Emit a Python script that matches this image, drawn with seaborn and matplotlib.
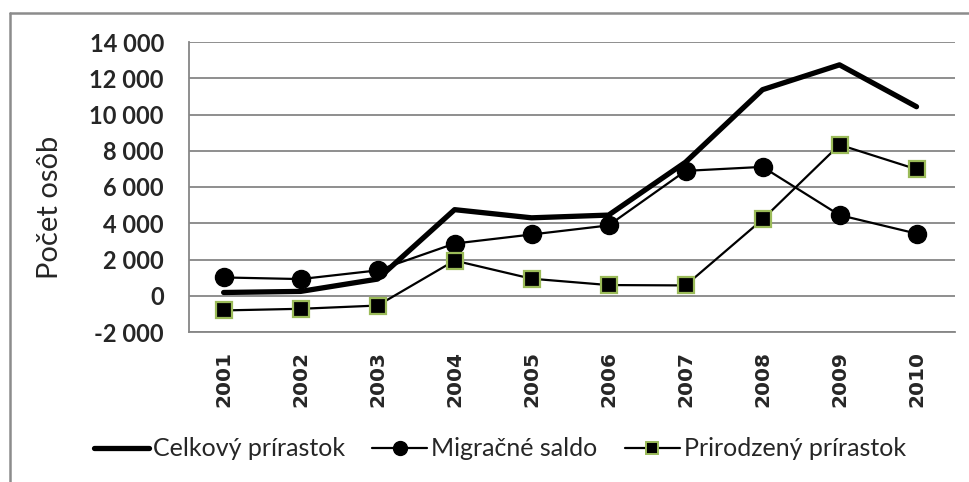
import matplotlib
matplotlib.use('Agg')
import matplotlib.pyplot as plt
from matplotlib.lines import Line2D
from matplotlib.ticker import FuncFormatter
import seaborn as sns
import pandas as pd

years = ['2001', '2002', '2003', '2004', '2005', '2006', '2007', '2008', '2009', '2010']
celkovy = [180, 240, 920, 4750, 4300, 4450, 7370, 11370, 12740, 10430]
migracne = [1010, 920, 1400, 2880, 3380, 3880, 6890, 7110, 4450, 3430]
prirodzeny = [-810, -720, -540, 1940, 940, 590, 570, 4210, 8330, 6980]

series_names = ['Celkový prírastok', 'Migračné saldo', 'Prirodzený prírastok']

df = pd.DataFrame({'rok': years,
                   series_names[0]: celkovy,
                   series_names[1]: migracne,
                   series_names[2]: prirodzeny})
long = df.melt(id_vars='rok', var_name='ukazovatel', value_name='hodnota')
long['x'] = long['rok'].map({y: i for i, y in enumerate(years)})

sns.set_style('white')
plt.rcParams['font.family'] = ['Lato', 'DejaVu Sans']

fig = plt.figure(figsize=(9.7, 4.82), dpi=100)
W, H = 970, 482
ax = fig.add_axes([189 / W, 1 - 332 / H, (955 - 189) / W, (332 - 42) / H])

green = '#9bbb59'
styles = {
    series_names[0]: dict(lw=3.8, marker=None),
    series_names[1]: dict(lw=1.6, marker='o', ms=13, mfc='black', mec='black', mew=1),
    series_names[2]: dict(lw=1.6, marker='s', ms=12, mfc='black', mec=green, mew=1.6),
}
for name in series_names:
    sub = long[long['ukazovatel'] == name]
    st = styles[name]
    sns.lineplot(data=sub, x='x', y='hodnota', ax=ax, color='black',
                 linewidth=st['lw'], label=name,
                 marker=st['marker'] if st['marker'] else None,
                 markersize=st.get('ms', 0), markerfacecolor=st.get('mfc', 'black'),
                 markeredgecolor=st.get('mec', 'black'), markeredgewidth=st.get('mew', 0),
                 zorder=3 if name == series_names[0] else 4)

ax.set_xlim(-0.45, 9.5)
ax.set_ylim(-2000, 14000)
ax.set_yticks(range(-2000, 14001, 2000))
ax.yaxis.set_major_formatter(FuncFormatter(lambda v, p: f'{int(v):,}'.replace(',', ' ')))
ax.set_xticks(range(len(years)))
ax.tick_params(axis='both', length=0)
ax.tick_params(axis='x', pad=14)
ax.tick_params(axis='y', pad=18)

ax.grid(axis='y', color='#868686', linewidth=1.3)
ax.set_axisbelow(True)
for side in ['top', 'right']:
    ax.spines[side].set_visible(False)
ax.spines['left'].set_color('#868686')
ax.spines['left'].set_linewidth(1.3)
ax.spines['bottom'].set_color('#868686')
ax.spines['bottom'].set_linewidth(1.3)

ax.set_xlabel('')
ax.set_ylabel('')
fig.text(50 / W, 1 - 207 / H, 'Počet osôb', rotation=90, ha='center',
         va='center', fontsize=21)

# outer chart frame (top and left visible)
fig.add_artist(Line2D([10 / W, 1.0], [1 - 13 / H, 1 - 13 / H],
                      transform=fig.transFigure, color='#8c8c8c', lw=1.8))
fig.add_artist(Line2D([10 / W, 10 / W], [0, 1 - 13 / H],
                      transform=fig.transFigure, color='#8c8c8c', lw=1.8))

ax.get_legend().remove()
handles = [
    Line2D([], [], color='black', lw=3.8),
    Line2D([], [], color='black', lw=1.6, marker='o', ms=10, mfc='black', mec='black'),
    Line2D([], [], color='black', lw=1.6, marker='s', ms=9, mfc='black', mec=green, mew=1.4),
]
fig.legend(handles, series_names, loc='center', bbox_to_anchor=(500 / W, 1 - 449 / H),
           ncol=3, frameon=False, fontsize=18, handlelength=2.2,
           handletextpad=0.15, columnspacing=1.1)

# tick label fonts last so nothing resets them
ax.set_xticklabels(years, rotation=90, fontfamily='DejaVu Sans',
                   fontweight='bold', fontsize=14.5)
for lab in ax.get_yticklabels():
    lab.set_fontweight('bold')
    lab.set_fontsize(17)

fig.savefig('out.png', dpi=100)
